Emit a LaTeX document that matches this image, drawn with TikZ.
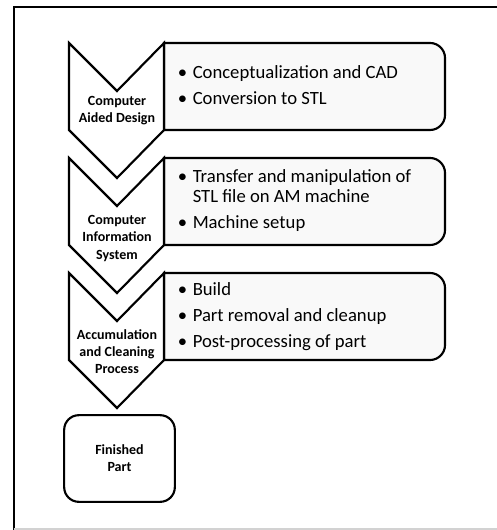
\documentclass[tikz,border=0pt]{standalone}
\usepackage{fontspec}
\setmainfont{Carlito}
\begin{document}
\begin{tikzpicture}[x=0.75pt,y=-0.75pt,
    chev/.style={draw=black, line width=1.6pt, fill=white, line join=miter},
    stepbox/.style={draw=black, line width=1.6pt, fill=gray!5},
    chevtext/.style={align=center, inner sep=0pt, font=\fontsize{10.5}{12.8}\selectfont\bfseries},
    itemtext/.style={anchor=base west, inner sep=0pt, font=\fontsize{14}{15}\selectfont}]
  \useasboundingbox (0,0) rectangle (496,530);

  % frame
  \draw[line width=1.5pt] (13.5,531) -- (13.5,7) -- (497,7);
  \draw[gray!35, line width=1pt] (13.5,529) -- (497,529);

  % computer aided design
  \draw[stepbox] (164,130) -- (164,43) -- (430,43) arc[start angle=270, end angle=360, radius=15]
    -- (445,115) arc[start angle=0, end angle=90, radius=15] -- cycle;
  \draw[chev] (69,43) -- (117,91) -- (164,43) -- (164,130) -- (117,178) -- (69,130) -- cycle;
  \node[chevtext] (cad) at (117,111) {Computer\\Aided Design};
  \node[itemtext] (cadlist) at (177.5,79) {\begin{tabular}[t]{@{}p{11.25pt}@{}l@{}}
      \textbullet & Conceptualization and CAD\\[4.5pt]
      \textbullet & Conversion to STL
    \end{tabular}};

  % computer information system
  \draw[stepbox] (164,245) -- (164,158) -- (430,158) arc[start angle=270, end angle=360, radius=15]
    -- (445,230) arc[start angle=0, end angle=90, radius=15] -- cycle;
  \draw[chev] (69,158) -- (117,206) -- (164,158) -- (164,245) -- (117,293) -- (69,245) -- cycle;
  \node[chevtext] (cis) at (117,238.5) {Computer\\Information\\System};
  \node[itemtext] (cislist) at (177.5,183) {\begin{tabular}[t]{@{}p{11.25pt}@{}l@{}}
      \textbullet & Transfer and manipulation of\\
       & STL file on AM machine\\[4.5pt]
      \textbullet & Machine setup
    \end{tabular}};

  % accumulation and cleaning
  \draw[stepbox] (164,360) -- (164,273) -- (430,273) arc[start angle=270, end angle=360, radius=15]
    -- (445,345) arc[start angle=0, end angle=90, radius=15] -- cycle;
  \draw[chev] (69,273) -- (117,321) -- (164,273) -- (164,360) -- (117,408) -- (69,360) -- cycle;
  \node[chevtext] (acp) at (117,351.5) {Accumulation\\and Cleaning\\Process};
  \node[itemtext] (acplist) at (177.5,295) {\begin{tabular}[t]{@{}p{11.25pt}@{}l@{}}
      \textbullet & Build\\[4.5pt]
      \textbullet & Part removal and cleanup\\[4.5pt]
      \textbullet & Post-processing of part
    \end{tabular}};

  % finished part
  \node[draw=black, line width=1.6pt, rounded corners=11pt, minimum width=83pt, minimum height=65pt,
    chevtext] (part) at (119.5,458.5) {Finished\\Part};
\end{tikzpicture}
\end{document}
